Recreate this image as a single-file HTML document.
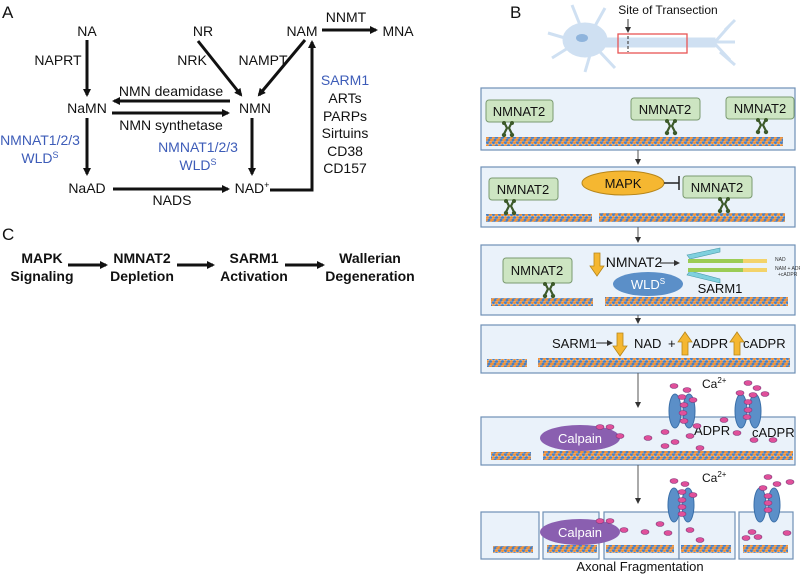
<!DOCTYPE html>
<html><head><meta charset="utf-8"><style>
html,body{margin:0;padding:0;background:#fff;}
svg{display:block;font-family:"Liberation Sans",Arial,sans-serif;}
</style></head><body>
<svg width="800" height="575" viewBox="0 0 800 575" xmlns="http://www.w3.org/2000/svg">
<defs>
<marker id="ah" markerWidth="8" markerHeight="8" refX="6" refY="4" orient="auto" markerUnits="userSpaceOnUse"><path d="M0,0 L8,4 L0,8 z" fill="#111"/></marker>
<marker id="as" markerWidth="6" markerHeight="6" refX="5" refY="3" orient="auto" markerUnits="userSpaceOnUse"><path d="M0,0 L6,3 L0,6 z" fill="#333"/></marker>
<pattern id="mt" width="6" height="8" patternUnits="userSpaceOnUse">
<rect width="6" height="8" fill="#fff0"/>
<ellipse cx="1.5" cy="1.5" rx="1.8" ry="1.4" fill="#f0923a"/>
<ellipse cx="4.5" cy="1.5" rx="1.8" ry="1.4" fill="#4a7fc0"/>
<ellipse cx="3" cy="4" rx="1.8" ry="1.4" fill="#4a7fc0"/>
<ellipse cx="0" cy="4" rx="1.8" ry="1.4" fill="#f0923a"/>
<ellipse cx="6" cy="4" rx="1.8" ry="1.4" fill="#f0923a"/>
<ellipse cx="1.5" cy="6.6" rx="1.8" ry="1.4" fill="#4a7fc0"/>
<ellipse cx="4.5" cy="6.6" rx="1.8" ry="1.4" fill="#f0923a"/>
</pattern>
<g id="teth"><path d="M-4,0 L-1,6 L-4,12 M4,0 L1,6 L4,12" stroke="#3d5a2a" stroke-width="2.2" fill="none"/><circle cx="-4" cy="1" r="2" fill="#3d5a2a"/><circle cx="4" cy="1" r="2" fill="#3d5a2a"/><circle cx="-4" cy="13" r="2.2" fill="#3d5a2a"/><circle cx="4" cy="13" r="2.2" fill="#3d5a2a"/></g>
<g id="chan"><ellipse cx="-7" cy="0" rx="6" ry="17" fill="#5b8fc8" stroke="#3a6fa8"/><ellipse cx="7" cy="0" rx="6" ry="17" fill="#5b8fc8" stroke="#3a6fa8"/></g>
<g id="ca"><ellipse rx="4" ry="2.5" fill="#e0509a" stroke="#7a3a7a" stroke-width="0.6"/></g>
</defs>

<!-- PANEL A -->
<g font-size="14" fill="#111" text-anchor="middle">
<text x="2" y="18" text-anchor="start" font-size="17">A</text>
<text x="87" y="36">NA</text><text x="203" y="36">NR</text><text x="302" y="36">NAM</text>
<text x="346" y="22">NNMT</text><text x="398" y="36">MNA</text>
<text x="58" y="65">NAPRT</text><text x="192" y="65">NRK</text><text x="263" y="65">NAMPT</text>
<text x="87" y="113">NaMN</text><text x="255" y="113">NMN</text>
<text x="171" y="96">NMN deamidase</text><text x="171" y="130">NMN synthetase</text>
<text x="40" y="145" fill="#3d5cb8">NMNAT1/2/3</text><text x="40" y="163" fill="#3d5cb8">WLD<tspan font-size="9" dy="-5">S</tspan></text>
<text x="198" y="152" fill="#3d5cb8">NMNAT1/2/3</text><text x="198" y="170" fill="#3d5cb8">WLD<tspan font-size="9" dy="-5">S</tspan></text>
<text x="87" y="193">NaAD</text><text x="252" y="193">NAD<tspan font-size="9" dy="-5">+</tspan></text>
<text x="172" y="205">NADS</text>
<text x="345" y="85" fill="#3d5cb8">SARM1</text><text x="345" y="103">ARTs</text><text x="345" y="121">PARPs</text>
<text x="345" y="138">Sirtuins</text><text x="345" y="156">CD38</text><text x="345" y="173">CD157</text>
</g>
<g stroke="#111" stroke-width="3" fill="none">
<line x1="322" y1="30" x2="376" y2="30" marker-end="url(#ah)"/>
<line x1="87" y1="40" x2="87" y2="95" marker-end="url(#ah)"/>
<line x1="198" y1="41" x2="241" y2="95" marker-end="url(#ah)"/>
<line x1="305" y1="40" x2="259" y2="95" marker-end="url(#ah)"/>
<line x1="230" y1="101" x2="114" y2="101" marker-end="url(#ah)"/>
<line x1="112" y1="113" x2="228" y2="113" marker-end="url(#ah)"/>
<line x1="87" y1="118" x2="87" y2="174" marker-end="url(#ah)"/>
<line x1="252" y1="118" x2="252" y2="174" marker-end="url(#ah)"/>
<line x1="113" y1="189" x2="228" y2="189" marker-end="url(#ah)"/>
<polyline points="270,190 312,190 312,42" marker-end="url(#ah)"/>
</g>

<!-- PANEL C -->
<text x="2" y="240" font-size="17" fill="#111">C</text>
<g font-size="14" font-weight="bold" fill="#111" text-anchor="middle">
<text x="42" y="263">MAPK</text><text x="42" y="281">Signaling</text>
<text x="142" y="263">NMNAT2</text><text x="142" y="281">Depletion</text>
<text x="254" y="263">SARM1</text><text x="254" y="281">Activation</text>
<text x="370" y="263">Wallerian</text><text x="370" y="281">Degeneration</text>
</g>
<g stroke="#111" stroke-width="3">
<line x1="68" y1="265" x2="106" y2="265" marker-end="url(#ah)"/>
<line x1="177" y1="265" x2="213" y2="265" marker-end="url(#ah)"/>
<line x1="285" y1="265" x2="323" y2="265" marker-end="url(#ah)"/>
</g>

<!-- PANEL B -->
<text x="510" y="18" font-size="17" fill="#111">B</text>
<!-- neuron -->
<g fill="#cfe0f2" stroke="#cfe0f2">
<ellipse cx="585" cy="40" rx="22" ry="17"/>
<rect x="600" y="38" width="115" height="9"/>
<path d="M565,38 L548,33 M568,48 L552,58 M580,25 L572,5 M595,26 L605,8 M590,55 L585,72 M600,52 L615,68 M715,42 L730,25 M715,42 L735,42 M715,44 L730,60 M725,30 L735,20 M720,52 L735,65" stroke-width="3" fill="none"/>
</g>
<ellipse cx="582" cy="38" rx="6" ry="4" fill="#8fb4dc"/>
<rect x="618" y="34" width="69" height="19" fill="none" stroke="#e85555" stroke-width="1.3"/>
<line x1="628" y1="36" x2="628" y2="52" stroke="#555" stroke-width="1.3" stroke-dasharray="3,2"/>
<line x1="628" y1="19" x2="628" y2="32" stroke="#333" stroke-width="1" marker-end="url(#as)"/>
<text x="668" y="14" font-size="12" text-anchor="middle" fill="#111">Site of Transection</text>

<g fill="#eaf2fa" stroke="#6f90b6" stroke-width="1.2">
<rect x="481" y="88" width="314" height="62"/>
<rect x="481" y="167" width="314" height="60"/>
<rect x="481" y="245" width="314" height="70"/>
<rect x="481" y="325" width="314" height="48"/>
<rect x="481" y="417" width="314" height="48"/>
<rect x="481" y="512" width="58" height="47"/>
<rect x="543" y="512" width="56" height="47"/>
<rect x="604" y="512" width="75" height="47"/>
<rect x="679" y="512" width="56" height="47"/>
<rect x="739" y="512" width="54" height="47"/>
</g>
<g stroke="#555" stroke-width="1">
<line x1="638" y1="150" x2="638" y2="164" marker-end="url(#as)"/>
<line x1="638" y1="227" x2="638" y2="242" marker-end="url(#as)"/>
<line x1="638" y1="315" x2="638" y2="323" marker-end="url(#as)"/>
<line x1="638" y1="373" x2="638" y2="407" marker-end="url(#as)"/>
<line x1="638" y1="465" x2="638" y2="503" marker-end="url(#as)"/>
</g>

<!-- microtubules -->
<g fill="url(#mt)">
<rect x="486" y="137" width="297" height="9"/>
<rect x="486" y="214" width="106" height="8"/>
<rect x="599" y="213" width="186" height="9"/>
<rect x="491" y="298" width="102" height="8"/>
<rect x="605" y="297" width="183" height="9"/>
<rect x="487" y="359" width="40" height="8"/>
<rect x="538" y="358" width="252" height="9"/>
<rect x="491" y="452" width="40" height="8"/>
<rect x="543" y="451" width="250" height="9"/>
<rect x="493" y="546" width="40" height="7"/>
<rect x="547" y="545" width="50" height="8"/>
<rect x="606" y="545" width="30" height="8"/>
<rect x="634" y="545" width="40" height="8"/>
<rect x="681" y="545" width="50" height="8"/>
<rect x="743" y="545" width="45" height="8"/>
</g>

<!-- NMNAT2 boxes -->
<g fill="#cde5c2" stroke="#7a9a70" stroke-width="1">
<rect x="486" y="100" width="67" height="22" rx="3"/>
<rect x="631" y="98" width="69" height="22" rx="3"/>
<rect x="726" y="97" width="68" height="22" rx="3"/>
<rect x="489" y="178" width="69" height="22" rx="3"/>
<rect x="683" y="176" width="69" height="22" rx="3"/>
<rect x="503" y="258" width="69" height="25" rx="3"/>
</g>
<g font-size="13" fill="#111" text-anchor="middle">
<text x="519" y="116">NMNAT2</text><text x="665" y="114">NMNAT2</text><text x="760" y="113">NMNAT2</text>
<text x="523" y="194">NMNAT2</text><text x="717" y="192">NMNAT2</text><text x="537" y="275">NMNAT2</text>
</g>
<use href="#teth" x="508" y="122"/><use href="#teth" x="671" y="120"/><use href="#teth" x="762" y="119"/>
<use href="#teth" x="510" y="200"/><use href="#teth" x="724" y="198"/><use href="#teth" x="549" y="283"/>

<!-- MAPK -->
<ellipse cx="623" cy="183" rx="41" ry="12" fill="#f5b731" stroke="#b7861a"/>
<text x="623" y="188" font-size="13" text-anchor="middle" fill="#111">MAPK</text>
<line x1="664" y1="183" x2="679" y2="183" stroke="#222" stroke-width="1.5"/><line x1="679" y1="176" x2="679" y2="190" stroke="#222" stroke-width="1.5"/>

<!-- box3 -->
<path d="M594,253 L600,253 L600,266 L604,266 L597,276 L590,266 L594,266 z" fill="#f5b731" stroke="#b7861a" stroke-width="0.8"/>
<text x="634" y="267" font-size="14" text-anchor="middle" fill="#111">NMNAT2</text>
<line x1="660" y1="263" x2="679" y2="263" stroke="#222" stroke-width="1" marker-end="url(#as)"/>
<ellipse cx="648" cy="284" rx="35" ry="12" fill="#5b8fc8"/>
<text x="648" y="289" font-size="13" text-anchor="middle" fill="#fff">WLD<tspan font-size="8" dy="-5">S</tspan></text>
<path d="M687,255 L720,248 L720,252 L690,259 z M687,275 L720,283 L720,279 L690,271 z" fill="#7fd0de" stroke="#4a9aaa" stroke-width="0.6"/>
<rect x="688" y="259" width="55" height="4" fill="#9bcc55"/><rect x="743" y="259" width="24" height="4" fill="#f3d36a"/>
<rect x="688" y="268" width="55" height="4" fill="#9bcc55"/><rect x="743" y="268" width="24" height="4" fill="#f3d36a"/>
<text x="775" y="261" font-size="5" fill="#333">NAD</text><text x="775" y="270" font-size="5" fill="#333">NAM + ADPR</text><text x="778" y="276" font-size="5" fill="#333">+cADPR</text>
<text x="720" y="293" font-size="13" text-anchor="middle" fill="#111">SARM1</text>

<!-- box4 -->
<g font-size="13" fill="#111">
<text x="552" y="348">SARM1</text><text x="634" y="348">NAD</text><text x="668" y="348">+</text><text x="692" y="348">ADPR</text><text x="743" y="348">cADPR</text>
</g>
<line x1="596" y1="343" x2="612" y2="343" stroke="#222" stroke-width="1" marker-end="url(#as)"/>
<path d="M617,333 L623,333 L623,346 L627,346 L620,356 L613,346 L617,346 z" fill="#f5b731" stroke="#b7861a" stroke-width="0.8"/>
<path d="M682,355 L688,355 L688,342 L692,342 L685,332 L678,342 L682,342 z" fill="#f5b731" stroke="#b7861a" stroke-width="0.8"/>
<path d="M734,355 L740,355 L740,342 L744,342 L737,332 L730,342 L734,342 z" fill="#f5b731" stroke="#b7861a" stroke-width="0.8"/>

<!-- box5 -->
<use href="#chan" x="682" y="411"/><use href="#chan" x="748" y="411"/>
<ellipse cx="580" cy="438" rx="40" ry="13" fill="#8a5fb0"/>
<text x="580" y="443" font-size="13" text-anchor="middle" fill="#fff">Calpain</text>
<text x="702" y="388" font-size="12" fill="#111">Ca<tspan font-size="8" dy="-5">2+</tspan></text>
<text x="694" y="435" font-size="13" fill="#111">ADPR</text><text x="752" y="437" font-size="13" fill="#111">cADPR</text>
<g>
<use href="#ca" x="674" y="386"/><use href="#ca" x="687" y="390"/><use href="#ca" x="682" y="397"/><use href="#ca" x="693" y="400"/><use href="#ca" x="684" y="405"/><use href="#ca" x="683" y="413"/><use href="#ca" x="684" y="421"/>
<use href="#ca" x="748" y="383"/><use href="#ca" x="757" y="388"/><use href="#ca" x="740" y="393"/><use href="#ca" x="753" y="395"/><use href="#ca" x="765" y="394"/><use href="#ca" x="748" y="402"/><use href="#ca" x="748" y="410"/><use href="#ca" x="747" y="417"/>
<use href="#ca" x="600" y="427"/><use href="#ca" x="610" y="427"/><use href="#ca" x="620" y="436"/><use href="#ca" x="648" y="438"/><use href="#ca" x="665" y="432"/><use href="#ca" x="675" y="442"/><use href="#ca" x="690" y="436"/><use href="#ca" x="665" y="446"/><use href="#ca" x="700" y="448"/><use href="#ca" x="724" y="420"/><use href="#ca" x="737" y="433"/><use href="#ca" x="754" y="440"/><use href="#ca" x="773" y="440"/><use href="#ca" x="697" y="426"/>
</g>

<!-- box6 -->
<use href="#chan" x="681" y="505"/><use href="#chan" x="767" y="505"/>
<ellipse cx="580" cy="532" rx="40" ry="13" fill="#8a5fb0"/>
<text x="580" y="537" font-size="13" text-anchor="middle" fill="#fff">Calpain</text>
<text x="702" y="482" font-size="12" fill="#111">Ca<tspan font-size="8" dy="-5">2+</tspan></text>
<g>
<use href="#ca" x="674" y="481"/><use href="#ca" x="685" y="484"/><use href="#ca" x="682" y="492"/><use href="#ca" x="693" y="495"/><use href="#ca" x="682" y="500"/><use href="#ca" x="682" y="507"/><use href="#ca" x="682" y="514"/>
<use href="#ca" x="768" y="477"/><use href="#ca" x="790" y="482"/><use href="#ca" x="777" y="484"/><use href="#ca" x="763" y="488"/><use href="#ca" x="768" y="496"/><use href="#ca" x="768" y="503"/><use href="#ca" x="768" y="510"/>
<use href="#ca" x="600" y="521"/><use href="#ca" x="610" y="521"/><use href="#ca" x="624" y="530"/><use href="#ca" x="645" y="532"/><use href="#ca" x="660" y="524"/><use href="#ca" x="668" y="533"/><use href="#ca" x="690" y="530"/><use href="#ca" x="700" y="540"/><use href="#ca" x="752" y="532"/><use href="#ca" x="758" y="537"/><use href="#ca" x="787" y="533"/><use href="#ca" x="746" y="538"/>
</g>
<text x="640" y="571" font-size="13" text-anchor="middle" fill="#111">Axonal Fragmentation</text>
</svg>
</body></html>
